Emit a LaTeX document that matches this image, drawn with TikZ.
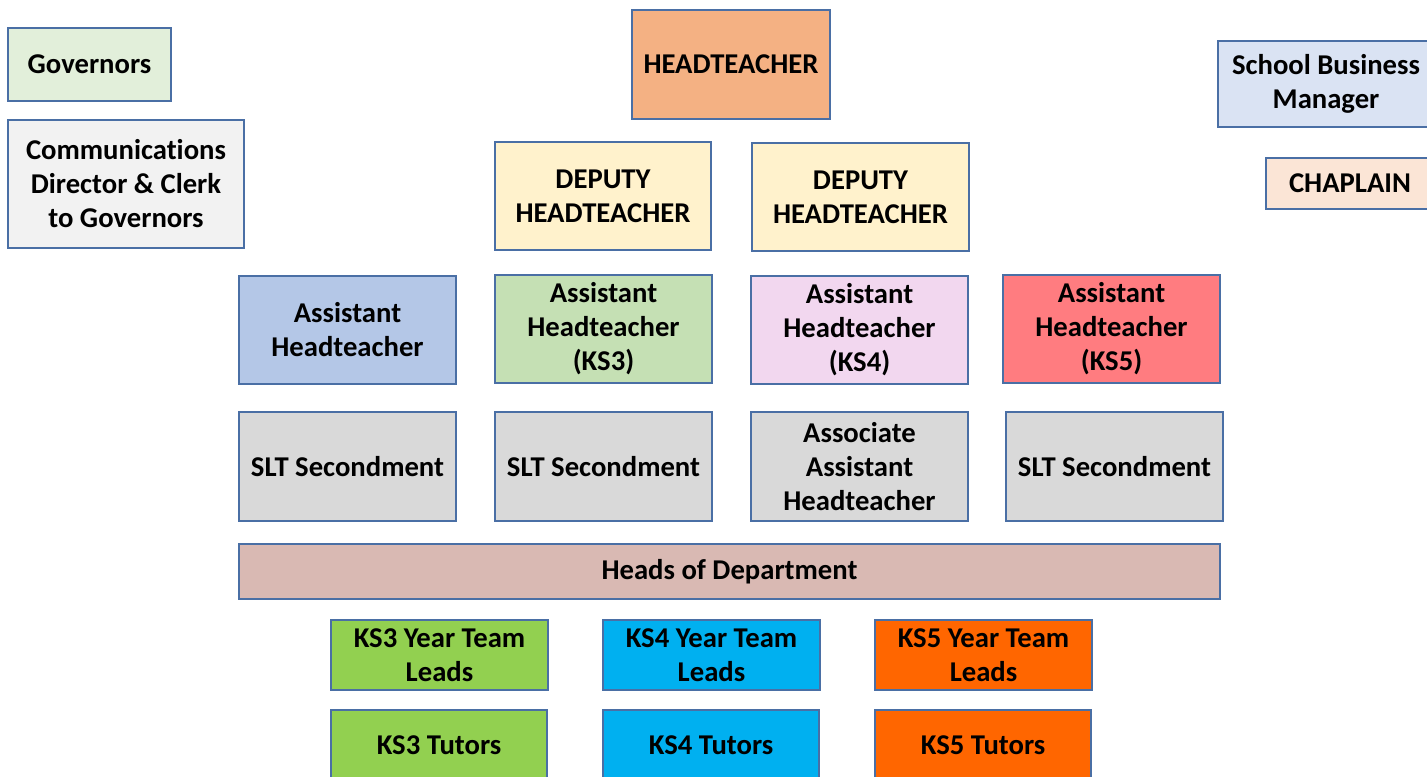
\documentclass[tikz,border=0pt]{standalone}
\usepackage{fontspec}
\setmainfont{Carlito}[Ligatures=NoCommon]
\definecolor{bord}{HTML}{4A6FA5}
\definecolor{cGov}{HTML}{E2EFDA}
\definecolor{cCom}{HTML}{F2F2F2}
\definecolor{cHead}{HTML}{F4B183}
\definecolor{cDep}{HTML}{FFF2CC}
\definecolor{cSBM}{HTML}{DAE3F3}
\definecolor{cChap}{HTML}{FBE5D6}
\definecolor{cAHa}{HTML}{B4C7E7}
\definecolor{cAHb}{HTML}{C5E0B4}
\definecolor{cAHc}{HTML}{F2D7EF}
\definecolor{cAHd}{HTML}{FF7C80}
\definecolor{cSLT}{HTML}{D9D9D9}
\definecolor{cHoD}{HTML}{D9B9B3}
\definecolor{cKSa}{HTML}{92D050}
\definecolor{cKSb}{HTML}{00B0F0}
\definecolor{cKSc}{HTML}{FF6600}
\tikzset{
  box/.style={draw=bord, line width=1.1pt, inner sep=0pt, align=center,
    font=\fontsize{21.5}{25.5}\selectfont\bfseries, text=black},
  rb/.style n args={4}{minimum width={(#3-#1)*0.75pt}, minimum height={(#4-#2)*0.75pt},
    at={({(#1+#3)/2},{(#2+#4)/2})}}
}
\begin{document}
\begin{tikzpicture}[x=0.75pt,y=-0.75pt]
\useasboundingbox (0,0) rectangle (1427,776);
\clip (0,0) rectangle (1427,776);
\fill[white] (0,0) rectangle (1427,776);
% top left
\node[box, fill=cGov, rb={8}{28}{171}{101}] (gov) {Governors};
\node[box, fill=cCom, rb={8}{120}{244}{248}] (com) {Communications\\Director \& Clerk\\to Governors};
% top centre
\node[box, fill=cHead, rb={632}{10}{830}{119}] (head) {HEADTEACHER};
\node[box, fill=cDep, rb={495}{142}{711}{250}] (dep1) {DEPUTY\\HEADTEACHER};
\node[box, fill=cDep, rb={752}{143}{969}{251}] (dep2) {DEPUTY\\HEADTEACHER};
% top right
\node[box, fill=cSBM, rb={1218}{41}{1434}{127}] (sbm) {School Business\\Manager};
\node[box, fill=cChap, rb={1266}{158}{1434}{209}] (chap) {CHAPLAIN};
% assistant heads
\node[box, fill=cAHa, rb={239}{276}{456}{384}] (ah1) {Assistant\\Headteacher};
\node[box, fill=cAHb, rb={495}{275}{712}{383}] (ah2) {Assistant\\Headteacher\\(KS3)};
\node[box, fill=cAHc, rb={751}{276}{968}{384}] (ah3) {Assistant\\Headteacher\\(KS4)};
\node[box, fill=cAHd, rb={1003}{275}{1220}{383}] (ah4) {Assistant\\Headteacher\\(KS5)};
% SLT row
\node[box, fill=cSLT, rb={239}{412}{456}{521}] (slt1) {SLT Secondment};
\node[box, fill=cSLT, rb={495}{412}{712}{521}] (slt2) {SLT Secondment};
\node[box, fill=cSLT, rb={751}{412}{968}{521}] (aah) {Associate\\Assistant\\Headteacher};
\node[box, fill=cSLT, rb={1006}{412}{1223}{521}] (slt3) {SLT Secondment};
% heads of department
\node[box, fill=cHoD, rb={239}{544}{1220}{599}] (hod) {Heads of Department};
% year teams
\node[box, fill=cKSa, rb={331}{620}{548}{690}] (l3) {KS3 Year Team\\Leads};
\node[box, fill=cKSb, rb={603}{620}{820}{690}] (l4) {KS4 Year Team\\Leads};
\node[box, fill=cKSc, rb={875}{620}{1092}{690}] (l5) {KS5 Year Team\\Leads};
\node[box, fill=cKSa, rb={331}{710}{547}{780}] (t3) {KS3 Tutors};
\node[box, fill=cKSb, rb={603}{710}{819}{780}] (t4) {KS4 Tutors};
\node[box, fill=cKSc, rb={875}{710}{1091}{780}] (t5) {KS5 Tutors};
\end{tikzpicture}
\end{document}
